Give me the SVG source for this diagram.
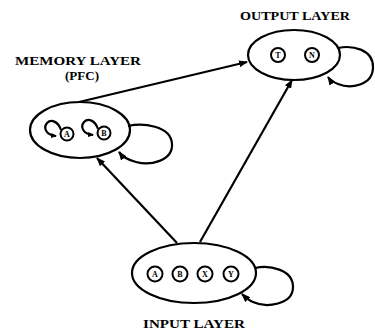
<svg xmlns="http://www.w3.org/2000/svg" width="375" height="334" viewBox="0 0 375 334">
<style>
.layer{fill:none;stroke:#000;stroke-width:2.2}
.unit{fill:#fff;stroke:#000;stroke-width:2}
.edge{fill:none;stroke:#000;stroke-width:2.2}
.ul{font-family:"Liberation Serif",serif;font-weight:bold;font-size:8px;text-anchor:middle;fill:#000}
.lbl{font-family:"Liberation Serif",serif;font-weight:bold;font-size:13px;text-anchor:middle;fill:#000}
</style>
<defs>
<marker id="ah" markerWidth="9" markerHeight="7" refX="8" refY="3.5" orient="auto" markerUnits="userSpaceOnUse">
<path d="M0,0 L9,3.5 L0,7 Z" fill="#000"/>
</marker>
<marker id="ahs" markerWidth="6" markerHeight="5" refX="5" refY="2.5" orient="auto" markerUnits="userSpaceOnUse">
<path d="M0,0 L6,2.5 L0,5 Z" fill="#000"/>
</marker>
</defs>
<g id="connectors">
<path class="edge" d="M79,102 L247,62" marker-end="url(#ah)"/>
<path class="edge" d="M177,243 L97,158" marker-end="url(#ah)"/>
<path class="edge" d="M200,242 L292,80" marker-end="url(#ah)"/>
<path class="edge" d="M128,126 C142,123 171,125 172,144 C173,161 150,166 136,162 C128,160 122,156 119,152" marker-end="url(#ah)"/>
<path class="edge" d="M338,48 C352,45 373,49 373,67 C373,86 350,89 338,84 C333,82 330,80 328,77" marker-end="url(#ah)"/>
<path class="edge" d="M255,268 C269,265 293,269 293,287 C293,305 266,308 253,302 C248,300 245,297 242,294" marker-end="url(#ah)"/>
</g>
<g id="memory-layer">
<ellipse class="layer" cx="80" cy="130" rx="50" ry="28"/>
<path fill="none" stroke="#000" stroke-width="2.2" d="M61,130 C58,121 51,119 47,123 C43,128 46,135 56,136" marker-end="url(#ahs)"/>
<circle class="unit" cx="67" cy="134" r="6.5"/>
<text class="ul" x="67" y="137">A</text>
<path fill="none" stroke="#000" stroke-width="2.2" d="M98,129 C95,120 88,118 84,122 C80,127 83,134 93,135" marker-end="url(#ahs)"/>
<circle class="unit" cx="104" cy="133" r="6.5"/>
<text class="ul" x="104" y="136">B</text>
<text class="lbl" x="78" y="65" font-size="12.5" textLength="126" lengthAdjust="spacingAndGlyphs">MEMORY LAYER</text>
<text class="lbl" x="82" y="80" font-size="12.5">(PFC)</text>
</g>
<g id="output-layer">
<ellipse class="layer" cx="294" cy="55" rx="46" ry="25"/>
<circle class="unit" cx="278" cy="55" r="7"/>
<text class="ul" x="278" y="58">T</text>
<circle class="unit" cx="312" cy="55" r="7"/>
<text class="ul" x="312" y="58">N</text>
<text class="lbl" x="295" y="20" textLength="110" lengthAdjust="spacingAndGlyphs">OUTPUT LAYER</text>
</g>
<g id="input-layer">
<ellipse class="layer" cx="194" cy="273" rx="62" ry="30"/>
<circle class="unit" cx="155" cy="274" r="7.5"/>
<text class="ul" x="155" y="277">A</text>
<circle class="unit" cx="180" cy="274" r="7.5"/>
<text class="ul" x="180" y="277">B</text>
<circle class="unit" cx="205" cy="274" r="7.5"/>
<text class="ul" x="205" y="277">X</text>
<circle class="unit" cx="231" cy="274" r="7.5"/>
<text class="ul" x="231" y="277">Y</text>
<text class="lbl" x="194" y="328" textLength="102" lengthAdjust="spacingAndGlyphs">INPUT LAYER</text>
</g>
</svg>
